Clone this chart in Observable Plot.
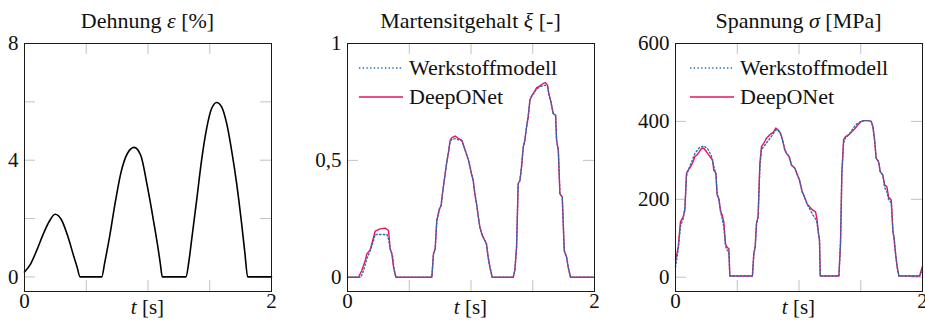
<!DOCTYPE html>
<html><head><meta charset="utf-8">
<script src="https://cdn.jsdelivr.net/npm/d3@7"></script>
<script src="https://cdn.jsdelivr.net/npm/@observablehq/plot@0.6"></script>
<style>
body{margin:0;background:#fff;}
#wrap{position:relative;width:925px;height:320px;overflow:hidden;background:#fff;}
#wrap svg{position:absolute;top:0;overflow:visible;}
#wrap svg text, #wrap svg tspan{font-family:"Liberation Serif","DejaVu Serif",serif !important;}
</style></head><body><div id="wrap"></div>
<script>
// ---------- data ----------
// Panel 1: Dehnung (strain) in %
const tStrain = [0, 0.05, 0.1, 0.15, 0.2, 0.248, 0.3, 0.35, 0.4, 0.425, 0.45, 0.625, 0.65, 0.684, 0.738, 0.779, 0.833, 0.887, 0.941, 0.995, 1.044, 1.084, 1.1, 1.116, 1.307, 1.33, 1.353, 1.394, 1.434, 1.475, 1.515, 1.556, 1.596, 1.637, 1.677, 1.718, 1.758, 1.785, 1.807, 2.0];
const strain  = [0.17, 0.45, 0.92, 1.45, 1.9, 2.15, 1.95, 1.4, 0.69, 0.35, 0, 0, 0.5, 1.26, 2.63, 3.54, 4.23, 4.44, 4.17, 3.1, 1.94, 0.91, 0.45, 0, 0, 0.5, 1.26, 2.63, 4.0, 5.09, 5.77, 5.98, 5.83, 5.26, 4.34, 3.2, 1.83, 0.8, 0, 0];

// Panel 2: Martensitgehalt xi [-]
const tXiNet = [0, 0.089, 0.116, 0.143, 0.157, 0.184, 0.211, 0.224, 0.265, 0.305, 0.332, 0.346, 0.359, 0.373, 0.392, 0.683, 0.696, 0.71, 0.723, 0.745, 0.758, 0.772, 0.791, 0.804, 0.818, 0.831, 0.845, 0.872, 0.899, 0.926, 0.953, 0.98, 1.004, 1.018, 1.031, 1.045, 1.058, 1.072, 1.091, 1.112, 1.125, 1.139, 1.153, 1.172, 1.342, 1.355, 1.369, 1.382, 1.396, 1.409, 1.423, 1.436, 1.45, 1.463, 1.477, 1.49, 1.512, 1.531, 1.558, 1.585, 1.604, 1.62, 1.63, 1.647, 1.666, 1.685, 1.693, 1.707, 1.72, 1.739, 1.755, 1.774, 1.787, 1.806, 2.0];
const xiNet  = [0, 0, 0.029, 0.071, 0.10, 0.117, 0.171, 0.197, 0.207, 0.21, 0.2, 0.121, 0.10, 0.043, 0, 0, 0.10, 0.121, 0.243, 0.293, 0.307, 0.371, 0.443, 0.493, 0.536, 0.586, 0.597, 0.604, 0.593, 0.586, 0.543, 0.5, 0.443, 0.414, 0.357, 0.314, 0.264, 0.214, 0.179, 0.157, 0.143, 0.086, 0.043, 0, 0, 0.029, 0.129, 0.4, 0.414, 0.471, 0.557, 0.586, 0.643, 0.686, 0.757, 0.774, 0.793, 0.81, 0.819, 0.829, 0.833, 0.821, 0.786, 0.75, 0.70, 0.693, 0.586, 0.543, 0.357, 0.343, 0.114, 0.086, 0.043, 0, 0];
const tXiModel = [0, 0.108, 0.13, 0.157, 0.184, 0.211, 0.224, 0.319, 0.332, 0.346, 0.365, 0.378, 0.392, 0.683, 0.696, 0.71, 0.723, 0.745, 0.758, 0.772, 0.791, 0.804, 0.818, 0.831, 0.845, 0.872, 0.899, 0.926, 0.953, 0.98, 1.004, 1.018, 1.031, 1.045, 1.058, 1.072, 1.091, 1.112, 1.125, 1.139, 1.153, 1.172, 1.342, 1.355, 1.369, 1.382, 1.396, 1.409, 1.423, 1.436, 1.45, 1.463, 1.477, 1.49, 1.512, 1.531, 1.558, 1.585, 1.604, 1.62, 1.63, 1.647, 1.666, 1.685, 1.693, 1.707, 1.72, 1.739, 1.755, 1.774, 1.787, 1.806, 2.0];
const xiModel  = [0, 0, 0.029, 0.079, 0.114, 0.157, 0.183, 0.183, 0.164, 0.121, 0.093, 0.029, 0, 0, 0.10, 0.121, 0.243, 0.293, 0.307, 0.371, 0.443, 0.493, 0.536, 0.58, 0.59, 0.593, 0.588, 0.584, 0.543, 0.5, 0.443, 0.414, 0.357, 0.314, 0.264, 0.214, 0.179, 0.157, 0.143, 0.086, 0.043, 0, 0, 0.029, 0.129, 0.4, 0.414, 0.471, 0.557, 0.586, 0.643, 0.686, 0.757, 0.774, 0.79, 0.805, 0.815, 0.82, 0.822, 0.815, 0.786, 0.75, 0.70, 0.693, 0.586, 0.543, 0.357, 0.343, 0.114, 0.086, 0.043, 0, 0];

// Panel 3: Spannung sigma [MPa]
const tSigNet = [0, 0.022, 0.04, 0.062, 0.076, 0.089, 0.103, 0.116, 0.13, 0.143, 0.157, 0.175, 0.192, 0.211, 0.229, 0.251, 0.278, 0.3, 0.31, 0.327, 0.337, 0.351, 0.364, 0.378, 0.391, 0.405, 0.418, 0.432, 0.44, 0.623, 0.634, 0.645, 0.656, 0.669, 0.683, 0.696, 0.715, 0.737, 0.764, 0.791, 0.812, 0.831, 0.85, 0.866, 0.885, 0.899, 0.92, 0.939, 0.966, 0.993, 1.004, 1.026, 1.045, 1.064, 1.085, 1.112, 1.134, 1.145, 1.158, 1.166, 1.172, 1.323, 1.336, 1.347, 1.361, 1.377, 1.404, 1.43, 1.457, 1.476, 1.503, 1.53, 1.557, 1.585, 1.598, 1.612, 1.625, 1.644, 1.658, 1.679, 1.693, 1.712, 1.725, 1.747, 1.761, 1.769, 1.782, 1.795, 1.809, 1.976, 2.0];
const sigNet  = [43, 77, 142, 155, 172, 267, 275, 280, 288, 297, 310, 314, 322, 331, 331, 322, 310, 301, 275, 267, 211, 202, 172, 159, 142, 86, 77, 73, 3, 3, 60, 77, 138, 155, 292, 335, 344, 357, 366, 372, 383, 378, 370, 353, 327, 318, 310, 288, 280, 258, 249, 219, 206, 189, 181, 172, 168, 150, 112, 95, 3, 3, 86, 267, 353, 361, 366, 374, 383, 391, 400, 402, 402, 400, 387, 353, 305, 297, 271, 262, 237, 232, 206, 198, 116, 103, 60, 26, 3, 3, 28];
const tSigModel = [0, 0.022, 0.04, 0.062, 0.076, 0.089, 0.103, 0.13, 0.157, 0.192, 0.229, 0.26, 0.29, 0.31, 0.327, 0.337, 0.351, 0.364, 0.378, 0.391, 0.405, 0.418, 0.432, 0.44, 0.623, 0.634, 0.645, 0.656, 0.669, 0.683, 0.696, 0.715, 0.737, 0.764, 0.791, 0.812, 0.831, 0.85, 0.866, 0.885, 0.899, 0.92, 0.939, 0.966, 0.993, 1.004, 1.026, 1.045, 1.064, 1.085, 1.112, 1.134, 1.145, 1.158, 1.166, 1.172, 1.323, 1.336, 1.347, 1.361, 1.377, 1.404, 1.43, 1.457, 1.476, 1.503, 1.53, 1.557, 1.585, 1.598, 1.612, 1.625, 1.644, 1.658, 1.679, 1.693, 1.712, 1.725, 1.747, 1.761, 1.769, 1.782, 1.795, 1.809, 1.976, 2.0];
const sigModel  = [26, 70, 130, 150, 180, 260, 275, 295, 318, 332, 337, 330, 312, 285, 265, 215, 200, 170, 150, 130, 80, 70, 65, 3, 3, 60, 77, 138, 155, 280, 328, 335, 345, 356, 368, 378, 378, 368, 353, 327, 318, 310, 288, 280, 258, 249, 219, 206, 189, 176, 160, 150, 140, 112, 95, 3, 3, 86, 267, 345, 358, 366, 378, 390, 396, 400, 402, 402, 400, 387, 353, 305, 297, 271, 262, 230, 220, 200, 190, 116, 103, 60, 26, 3, 3, 15];

// tick values and labels
const xTickVals = [0.5, 1, 1.5];
const xLabels = [{v: 0, s: "0"}, {v: 2, s: "2"}];
const yTicks1 = [0, 2, 4, 6, 8];
const yLabels1 = [{v: 0, s: "0"}, {v: 4, s: "4"}, {v: 8, s: "8"}];
const yTicks2 = [0, 0.5, 1];
const yLabels2 = [{v: 0, s: "0"}, {v: 0.5, s: "0,5"}, {v: 1, s: "1"}];
const yTicks3 = [0, 200, 400, 600];
const yLabels3 = [{v: 0, s: "0"}, {v: 200, s: "200"}, {v: 400, s: "400"}, {v: 600, s: "600"}];
const legendNames = ["Werkstoffmodell", "DeepONet"];

// ---------- drawing ----------
const FONT = "Liberation Serif, DejaVu Serif, serif";
const PINK = "#e3145f", BLUE = "#2a6cb3", TICK = "#c2c2c2";
const zipData = (ts, vs) => ts.map((t, i) => ({t, v: vs[i]}));
const FW = 247, FH = 248, MT = 43, MB = 29, TL = 11;
const wrap = document.getElementById("wrap");

function panel(cfg) {
  const marks = [
    Plot.tickY(cfg.yTicks, {y: d => d, stroke: TICK, strokeWidth: 1, insetRight: FW - TL}),
    Plot.tickY(cfg.yTicks, {y: d => d, stroke: TICK, strokeWidth: 1, insetLeft: FW - TL}),
    Plot.tickX(xTickVals, {x: d => d, stroke: TICK, strokeWidth: 1, insetBottom: FH - TL}),
    Plot.tickX(xTickVals, {x: d => d, stroke: TICK, strokeWidth: 1, insetTop: FH - TL}),
    ...cfg.lines,
    Plot.frame({stroke: "#1a1a1a", strokeWidth: 1}),
    Plot.text(cfg.yLabels, {y: "v", text: "s", frameAnchor: "left", dx: -6, textAnchor: "end", lineAnchor: "middle", fontFamily: FONT, fontSize: 21, fill: "#111"}),
    Plot.text(xLabels, {x: "v", text: "s", frameAnchor: "bottom", dy: 10, lineAnchor: "middle", fontFamily: FONT, fontSize: 21, fill: "#111"})
  ];
  const svg = Plot.plot({
    width: cfg.width, height: 320,
    marginLeft: cfg.mL, marginRight: cfg.width - cfg.mL - FW, marginTop: MT, marginBottom: MB,
    x: {domain: [0, 2], axis: null},
    y: {domain: cfg.yDomain, axis: null},
    style: {background: "transparent", fontFamily: FONT},
    marks
  });
  svg.style.left = cfg.left + "px";
  const s = d3.select(svg);
  const cx = cfg.mL + FW / 2;
  const title = s.append("text").attr("x", cx).attr("y", 28).attr("text-anchor", "middle")
    .style("font-family", FONT).attr("font-size", 22).attr("fill", "#111");
  cfg.title.forEach(([txt, it]) => title.append("tspan").attr("font-style", it ? "italic" : null).text(txt));
  const xl = s.append("text").attr("x", cx).attr("y", 314).attr("text-anchor", "middle")
    .style("font-family", FONT).attr("font-size", 21).attr("fill", "#111");
  xl.append("tspan").attr("font-style", "italic").text("t");
  xl.append("tspan").text(" [s]");
  if (cfg.legend) {
    const lx = cfg.mL + cfg.legend;
    const rows = [{y: 68, c: BLUE, dash: "1.4,2.3", name: legendNames[0]}, {y: 97, c: PINK, dash: null, name: legendNames[1]}];
    rows.forEach(r => {
      s.append("line").attr("x1", lx).attr("x2", lx + 44).attr("y1", r.y).attr("y2", r.y)
        .attr("stroke", r.c).attr("stroke-width", 1.4).attr("stroke-dasharray", r.dash);
      s.append("text").attr("x", lx + 50).attr("y", r.y + 7).attr("text-anchor", "start")
        .style("font-family", FONT).attr("font-size", 22).attr("fill", "#111").text(r.name);
    });
  }
  wrap.appendChild(svg);
}

panel({
  left: 0, width: 300, mL: 24, yDomain: [-0.5, 8], yTicks: yTicks1, yLabels: yLabels1,
  title: [["Dehnung "], ["ε", true], [" [%]"]],
  lines: [Plot.line(zipData(tStrain, strain), {x: "t", y: "v", stroke: "#000", strokeWidth: 1.6, curve: "monotone-x"})]
});
panel({
  left: 300, width: 320, mL: 47, yDomain: [-0.061, 1], yTicks: yTicks2, yLabels: yLabels2,
  title: [["Martensitgehalt "], ["ξ", true], [" [-]"]], legend: 12,
  lines: [
    Plot.line(zipData(tXiNet, xiNet), {x: "t", y: "v", stroke: PINK, strokeWidth: 1.4}),
    Plot.line(zipData(tXiModel, xiModel), {x: "t", y: "v", stroke: BLUE, strokeWidth: 1.4, strokeDasharray: "1.4,2.3"})
  ]
});
panel({
  left: 620, width: 305, mL: 55, yDomain: [-36.7, 600], yTicks: yTicks3, yLabels: yLabels3,
  title: [["Spannung "], ["σ", true], [" [MPa]"]], legend: 15,
  lines: [
    Plot.line(zipData(tSigNet, sigNet), {x: "t", y: "v", stroke: PINK, strokeWidth: 1.4}),
    Plot.line(zipData(tSigModel, sigModel), {x: "t", y: "v", stroke: BLUE, strokeWidth: 1.4, strokeDasharray: "1.4,2.3"})
  ]
});
</script></body></html>
